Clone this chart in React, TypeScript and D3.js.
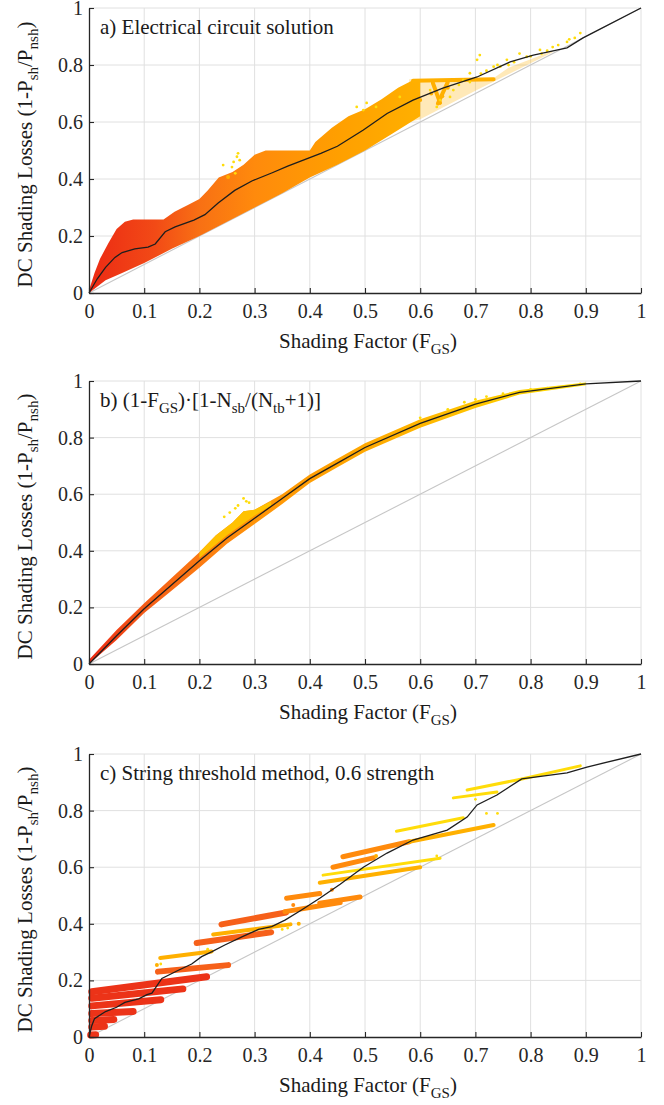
import React, { useEffect, useRef } from 'react';
import * as d3 from 'd3';

const xTicks = [0, 0.1, 0.2, 0.3, 0.4, 0.5, 0.6, 0.7, 0.8, 0.9, 1];
const yTicks = [0, 0.2, 0.4, 0.6, 0.8, 1];
const diagonal = [[0, 0], [1, 1]];

// scatter colour classes: red -> orange -> yellow
const shadeColors = ['#ec3318', '#f6601a', '#ff8a0c', '#ffb000', '#ffdc0a'];
const shadeWidths = [7, 6, 5, 4, 3];

// ---- a) Electrical circuit solution
const meanA = [[0, 0], [0.015, 0.05], [0.03, 0.09], [0.047, 0.125], [0.06, 0.142], [0.083, 0.155], [0.107, 0.161], [0.12, 0.172], [0.138, 0.215], [0.156, 0.232], [0.19, 0.256], [0.21, 0.275], [0.234, 0.316], [0.264, 0.36], [0.295, 0.393], [0.332, 0.422], [0.36, 0.445], [0.4, 0.475], [0.42, 0.49], [0.45, 0.515], [0.497, 0.572], [0.54, 0.63], [0.587, 0.677], [0.641, 0.719], [0.703, 0.758], [0.763, 0.811], [0.805, 0.835], [0.866, 0.86], [0.895, 0.895], [1, 1]];
const cloudTopA = [[0, 0.01], [0.01, 0.07], [0.02, 0.12], [0.035, 0.175], [0.05, 0.225], [0.065, 0.25], [0.08, 0.258], [0.135, 0.258], [0.155, 0.285], [0.18, 0.31], [0.2, 0.33], [0.215, 0.36], [0.235, 0.405], [0.26, 0.425], [0.28, 0.45], [0.3, 0.485], [0.32, 0.5], [0.4, 0.5], [0.41, 0.53], [0.44, 0.58], [0.47, 0.62], [0.5, 0.645], [0.53, 0.68], [0.56, 0.72], [0.59, 0.75], [0.6, 0.75]];
const cloudBottomA = [[0, 0], [0.03, 0.045], [0.06, 0.07], [0.1, 0.105], [0.15, 0.155], [0.2, 0.2], [0.25, 0.25], [0.3, 0.3], [0.35, 0.35], [0.4, 0.405], [0.45, 0.45], [0.5, 0.5], [0.55, 0.56], [0.6, 0.62]];
const sparseTopA = [[0.58, 0.75], [0.73, 0.75], [0.76, 0.79], [0.84, 0.85]];
const sparseBottomA = [[0.58, 0.6], [0.6, 0.61], [0.7, 0.71], [0.84, 0.845]];
const gradA = [[0, '#ec2a14'], [0.12, '#f24a16'], [0.2, '#f87014'], [0.3, '#ff8a0c'], [0.45, '#ff9f00'], [0.6, '#ffb000'], [0.85, '#ffd000']];
const stripsA = [[0.587, 0.745, 0.733, 0.75, 3], [0.623, 0.737, 0.636, 0.667, 3], [0.65, 0.74, 0.632, 0.665, 3]];
const dotsA = [[0.27, 0.49, 4], [0.273, 0.466, 4], [0.259, 0.442, 4], [0.243, 0.449, 4], [0.265, 0.42, 4], [0.252, 0.407, 3], [0.268, 0.478, 4], [0.262, 0.46, 4], [0.485, 0.653, 4], [0.503, 0.667, 4], [0.52, 0.653, 4], [0.497, 0.642, 4], [0.563, 0.688, 4], [0.6, 0.677, 3], [0.618, 0.712, 4], [0.63, 0.653, 4], [0.636, 0.677, 4], [0.654, 0.688, 4], [0.66, 0.712, 4], [0.678, 0.747, 4], [0.69, 0.771, 4], [0.703, 0.818, 4], [0.708, 0.835, 4], [0.733, 0.794, 4], [0.745, 0.794, 4], [0.757, 0.818, 4], [0.78, 0.84, 4], [0.793, 0.829, 4], [0.817, 0.853, 4], [0.84, 0.863, 4], [0.866, 0.881, 4], [0.89, 0.912, 4], [0.62, 0.7, 3], [0.64, 0.69, 3], [0.65, 0.72, 3], [0.67, 0.73, 4], [0.69, 0.74, 4], [0.71, 0.77, 4], [0.72, 0.78, 4], [0.74, 0.8, 4], [0.76, 0.8, 4], [0.77, 0.81, 4], [0.8, 0.83, 4], [0.82, 0.84, 4], [0.83, 0.85, 4], [0.85, 0.87, 4], [0.87, 0.89, 4], [0.88, 0.895, 4]];

// ---- b) (1-FGS)*[1-Nsb/(Ntb+1)]
const meanB = [[0, 0], [0.05, 0.1], [0.1, 0.195], [0.15, 0.28], [0.2, 0.365], [0.25, 0.445], [0.3, 0.515], [0.35, 0.585], [0.4, 0.655], [0.45, 0.71], [0.5, 0.765], [0.6, 0.85], [0.7, 0.918], [0.78, 0.96], [0.9, 0.99], [1, 1]];
const bandTopB = [[0, 0.015], [0.05, 0.12], [0.1, 0.215], [0.15, 0.305], [0.2, 0.395], [0.23, 0.455], [0.26, 0.5], [0.28, 0.54], [0.3, 0.545], [0.35, 0.6], [0.4, 0.67], [0.45, 0.725], [0.5, 0.78], [0.6, 0.865], [0.7, 0.93], [0.78, 0.968], [0.9, 0.995]];
const bandBottomB = [[0, 0], [0.05, 0.085], [0.1, 0.18], [0.15, 0.26], [0.2, 0.34], [0.25, 0.425], [0.3, 0.495], [0.35, 0.565], [0.4, 0.64], [0.45, 0.695], [0.5, 0.75], [0.6, 0.835], [0.7, 0.905], [0.78, 0.952], [0.9, 0.985]];
const fringeTopB = [[0.2, 0.395], [0.23, 0.455], [0.26, 0.5], [0.28, 0.54], [0.3, 0.545], [0.33, 0.575]];
const fringeBottomB = [[0.2, 0.375], [0.25, 0.455], [0.3, 0.525], [0.33, 0.56]];
const gradB = [[0, '#ec2a14'], [0.1, '#f45a16'], [0.2, '#fb7a12'], [0.3, '#ff9408'], [0.5, '#ffa800'], [0.7, '#ffc400'], [0.9, '#ffe000']];
const dotsB = [[0.28, 0.585, 4], [0.285, 0.575, 4], [0.27, 0.56, 4], [0.265, 0.55, 4], [0.255, 0.535, 4], [0.245, 0.52, 4], [0.29, 0.57, 4], [0.6, 0.87, 4], [0.65, 0.9, 4], [0.68, 0.925, 4], [0.7, 0.935, 4], [0.72, 0.945, 4], [0.75, 0.955, 4], [0.8, 0.97, 4], [0.83, 0.975, 4], [0.86, 0.98, 4], [0.89, 0.99, 4]];

// ---- c) String threshold method, 0.6 strength
const meanC = [[0, 0], [0.005, 0.04], [0.01, 0.065], [0.03, 0.09], [0.05, 0.105], [0.065, 0.122], [0.09, 0.135], [0.105, 0.15], [0.114, 0.155], [0.132, 0.207], [0.161, 0.235], [0.186, 0.258], [0.204, 0.284], [0.222, 0.301], [0.246, 0.325], [0.277, 0.354], [0.307, 0.38], [0.331, 0.39], [0.355, 0.413], [0.385, 0.449], [0.418, 0.49], [0.455, 0.54], [0.497, 0.6], [0.54, 0.65], [0.587, 0.696], [0.649, 0.731], [0.685, 0.777], [0.703, 0.82], [0.739, 0.855], [0.784, 0.912], [0.866, 0.933], [0.902, 0.954], [1, 1]];
// streaks: x0, y0, x1, y1, colour class
const streaksC = [
  [0.003, 0.007, 0.012, 0.008, 0], [0.005, 0.035, 0.028, 0.038, 0], [0.005, 0.058, 0.045, 0.062, 0],
  [0.005, 0.083, 0.08, 0.09, 0], [0.005, 0.11, 0.13, 0.132, 0], [0.005, 0.137, 0.17, 0.17, 0],
  [0.005, 0.16, 0.213, 0.213, 0], [0.125, 0.231, 0.252, 0.254, 1], [0.129, 0.279, 0.222, 0.302, 3],
  [0.195, 0.332, 0.33, 0.37, 1], [0.225, 0.362, 0.365, 0.398, 3], [0.24, 0.398, 0.357, 0.44, 1],
  [0.355, 0.443, 0.455, 0.475, 2], [0.358, 0.49, 0.418, 0.507, 2], [0.418, 0.473, 0.491, 0.495, 2],
  [0.418, 0.545, 0.6, 0.6, 3], [0.424, 0.572, 0.636, 0.632, 4], [0.442, 0.6, 0.515, 0.633, 2],
  [0.46, 0.637, 0.58, 0.69, 2], [0.58, 0.69, 0.733, 0.749, 3], [0.557, 0.727, 0.678, 0.775, 4],
  [0.66, 0.845, 0.739, 0.866, 4], [0.685, 0.873, 0.78, 0.91, 4], [0.78, 0.91, 0.89, 0.958, 4]
];
const dotsC = [[0.123, 0.254, 3], [0.13, 0.258, 4], [0.215, 0.31, 4], [0.35, 0.38, 4], [0.36, 0.385, 4], [0.38, 0.4, 3], [0.37, 0.466, 2], [0.44, 0.52, 2], [0.52, 0.64, 3], [0.63, 0.64, 4], [0.72, 0.79, 4], [0.74, 0.79, 4], [0.7, 0.84, 4]];

const panels = [
  { top: 8, bottom: 293, title: [['a) Electrical circuit solution', false]], mean: meanA, areas: [[cloudTopA, cloudBottomA, 'gradA', 1], [sparseTopA, sparseBottomA, '#ffb000', 0.28]], grad: gradA, gradId: 'gradA', streaks: stripsA, dots: dotsA },
  { top: 381, bottom: 664, title: [['b) (1-F', false], ['GS', true], [')·[1-N', false], ['sb', true], ['/(N', false], ['tb', true], ['+1)]', false]], mean: meanB, areas: [[bandTopB, bandBottomB, 'gradB', 1], [fringeTopB, fringeBottomB, '#ffc800', 0.9]], grad: gradB, gradId: 'gradB', streaks: [], dots: dotsB },
  { top: 754, bottom: 1037, title: [['c) String threshold method, 0.6 strength', false]], mean: meanC, areas: [], grad: null, gradId: null, streaks: streaksC, dots: dotsC }
];

const FONT = "'Liberation Serif', 'Times New Roman', serif";
const yLabel = [['DC Shading Losses (1-P', false], ['sh', true], ['/P', false], ['nsh', true], [')', false]];
const xLabel = [['Shading Factor (F', false], ['GS', true], [')', false]];

function rich(text, parts, subSize, shift) {
  let shifted = false;
  parts.forEach(([t, sub]) => {
    const ts = text.append('tspan').text(t);
    if (sub) {
      ts.attr('font-size', subSize);
      if (!shifted) { ts.attr('dy', shift); shifted = true; }
    } else if (shifted) {
      ts.attr('dy', -shift);
      shifted = false;
    }
  });
}

function drawPanel(svg, p) {
  const x = d3.scaleLinear().domain([0, 1]).range([89, 641]);
  const y = d3.scaleLinear().domain([0, 1]).range([p.bottom, p.top]);
  const g = svg.append('g');

  if (p.grad) {
    const lg = svg.select('defs').append('linearGradient')
      .attr('id', p.gradId).attr('gradientUnits', 'userSpaceOnUse')
      .attr('x1', x(0)).attr('x2', x(1)).attr('y1', 0).attr('y2', 0);
    lg.selectAll('stop').data(p.grad).join('stop')
      .attr('offset', d => d[0]).attr('stop-color', d => d[1]);
  }

  // grid
  g.append('g').selectAll('line').data(xTicks.slice(1)).join('line')
    .attr('x1', d => x(d)).attr('x2', d => x(d)).attr('y1', y(0)).attr('y2', y(1))
    .attr('stroke', '#e0e0e0').attr('stroke-width', 1);
  g.append('g').selectAll('line').data(yTicks.slice(1)).join('line')
    .attr('x1', x(0)).attr('x2', x(1)).attr('y1', d => y(d)).attr('y2', d => y(d))
    .attr('stroke', '#e0e0e0').attr('stroke-width', 1);

  const line = d3.line().x(d => x(d[0])).y(d => y(d[1]));

  g.append('path').datum(diagonal).attr('d', line)
    .attr('fill', 'none').attr('stroke', '#c6c6c6').attr('stroke-width', 1.1);

  p.areas.forEach(([top, bottom, fill, op]) => {
    const poly = top.concat(bottom.slice().reverse());
    g.append('path').datum(poly).attr('d', d => line(d) + 'Z')
      .attr('fill', fill.startsWith('#') ? fill : `url(#${fill})`)
      .attr('fill-opacity', op).attr('stroke', 'none');
  });

  g.append('g').selectAll('line').data(p.streaks).join('line')
    .attr('x1', d => x(d[0])).attr('y1', d => y(d[1]))
    .attr('x2', d => x(d[2])).attr('y2', d => y(d[3]))
    .attr('stroke', d => shadeColors[d[4]]).attr('stroke-width', d => shadeWidths[d[4]])
    .attr('stroke-linecap', 'round');

  g.append('g').selectAll('circle').data(p.dots).join('circle')
    .attr('cx', d => x(d[0])).attr('cy', d => y(d[1]))
    .attr('r', d => (d[2] === 4 ? 1.4 : 2))
    .attr('fill', d => shadeColors[d[2]]);

  g.append('path').datum(p.mean).attr('d', line)
    .attr('fill', 'none').attr('stroke', '#1e1e1e').attr('stroke-width', 1.3);

  // axes
  const xa = g.append('g').attr('transform', `translate(0,${y(0)})`)
    .call(d3.axisBottom(x).tickValues(xTicks).tickSizeInner(-5).tickSizeOuter(0).tickPadding(11).tickFormat(d3.format('~g')));
  const ya = g.append('g').attr('transform', `translate(${x(0)},0)`)
    .call(d3.axisLeft(y).tickValues(yTicks).tickSizeInner(-5).tickSizeOuter(0).tickPadding(6).tickFormat(d3.format('~g')));
  [xa, ya].forEach(a => {
    a.select('.domain').attr('stroke', '#262626').attr('stroke-width', 1.3);
    a.selectAll('.tick line').attr('stroke', '#262626').attr('stroke-width', 1.1);
    a.selectAll('.tick text').attr('fill', '#262626')
      .style('font-family', FONT).style('font-size', '20px');
  });

  // title
  const t = g.append('text').attr('x', 100).attr('y', p.top + 26)
    .attr('font-family', FONT).attr('font-size', 21).attr('fill', '#1a1a1a');
  rich(t, p.title, 15, 6);

  // axis labels
  const xl = g.append('text').attr('x', 368).attr('y', p.bottom + 55).attr('text-anchor', 'middle')
    .attr('font-family', FONT).attr('font-size', 21).attr('fill', '#1a1a1a');
  rich(xl, xLabel, 15, 6);
  const yl = g.append('text').attr('transform', `translate(32,${(p.top + p.bottom) / 2 + 4}) rotate(-90)`)
    .attr('text-anchor', 'middle')
    .attr('font-family', FONT).attr('font-size', 21).attr('fill', '#1a1a1a');
  rich(yl, yLabel, 15, 6);
}

const App = () => {
  const ref = useRef(null);
  useEffect(() => {
    const svg = d3.select(ref.current);
    svg.selectAll('*').remove();
    svg.append('defs');
    panels.forEach(p => drawPanel(svg, p));
  }, []);
  return <svg ref={ref} width={664} height={1105} style={{ position: 'absolute', left: 0, top: 0, background: '#fff' }} />;
};

export default App;
